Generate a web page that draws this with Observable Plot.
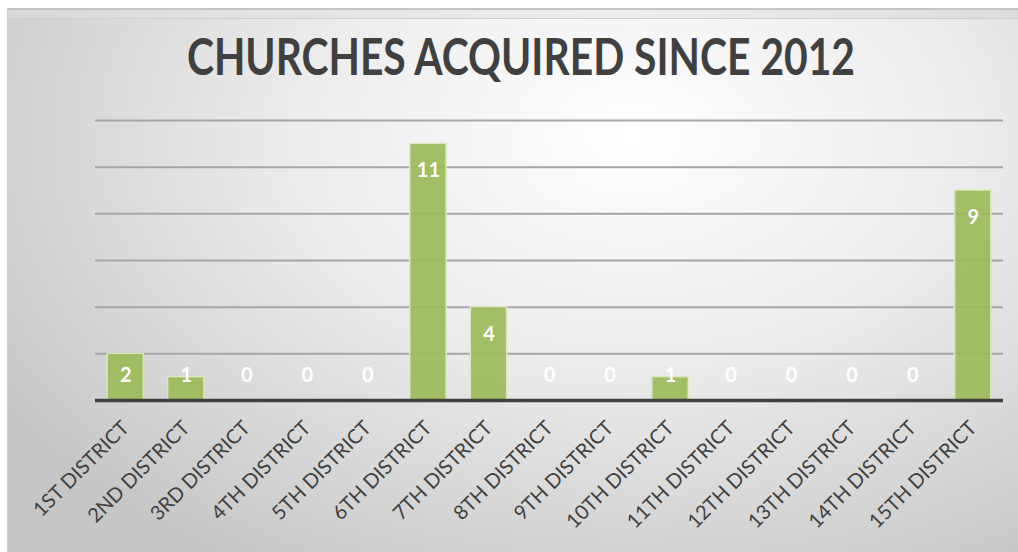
<!DOCTYPE html>
<html><head><meta charset="utf-8">
<script src="https://cdn.jsdelivr.net/npm/d3@7"></script>
<script src="https://cdn.jsdelivr.net/npm/@observablehq/plot@0.6"></script>
<style>
html,body{margin:0;padding:0;background:#fff;}
body{width:1018px;height:552px;overflow:hidden;position:relative;font-family:Lato,"Open Sans",sans-serif;}
#outer{position:absolute;left:7px;top:8px;width:1011px;height:544px;border-top:2px solid #c4c4c4;border-left:1px solid #cfcfcf;box-sizing:border-box;
 background:linear-gradient(to right,#d9d9d9,#efefef 60%,#dcdcdc);}
#frame{position:absolute;left:7px;top:18px;width:1011px;height:534px;border-top:1px solid #cfcfcf;border-left:1px solid #cfcfcf;box-sizing:border-box;
 background:radial-gradient(ellipse 75% 95% at 62% 22%,#ffffff 0%,#ececec 45%,#c6c6c6 100%);}
#title{position:absolute;left:0;top:26px;width:1042px;text-align:center;font-weight:bold;font-size:51px;line-height:60px;color:#404040;font-family:Lato,"Open Sans",sans-serif;white-space:nowrap;transform:scaleX(0.8);transform-origin:521px 0;}
#chart{position:absolute;left:0;top:100px;}
</style>
</head><body>
<div id="outer"></div>
<div id="frame"></div>
<div id="title">CHURCHES ACQUIRED SINCE 2012</div>
<div id="chart"></div>
<script>
const districts = ["1ST DISTRICT","2ND DISTRICT","3RD DISTRICT","4TH DISTRICT","5TH DISTRICT","6TH DISTRICT","7TH DISTRICT","8TH DISTRICT","9TH DISTRICT","10TH DISTRICT","11TH DISTRICT","12TH DISTRICT","13TH DISTRICT","14TH DISTRICT","15TH DISTRICT"];
const churches = [2,1,0,0,0,11,4,0,0,1,0,0,0,0,9];
const gridValues = [2,4,6,8,10,12];

const data = districts.map((d,i)=>({district:d,count:churches[i]}));

const chart = Plot.plot({
  width:1018, height:452,
  marginTop:20, marginBottom:152, marginLeft:95, marginRight:15,
  style:{background:"transparent", fontFamily:"Lato, 'Open Sans', sans-serif", fontSize:"16px", color:"#404040", overflow:"visible"},
  x:{domain:districts, paddingInner:0.4, paddingOuter:0.2, round:false, label:null},
  y:{domain:[0,12], axis:null},
  marks:[
    Plot.ruleY(gridValues,{stroke:"#a6a6a6", strokeWidth:2}),
    Plot.barY(data,{x:"district", y:"count", fill:"#9bbb59", fillOpacity:0.92, stroke:"#dbe7c3", strokeWidth:1.5}),
    Plot.ruleY([0],{stroke:"#404040", strokeWidth:3.5}),
    Plot.text(data,{x:"district", y:d=>Math.max(d.count-1.16,1.07), text:"count", fill:"white", fontWeight:"bold", fontSize:20}),
    Plot.axisX({tickSize:0, tickRotate:-45, tickPadding:24, fontSize:20, fill:"#404040", label:null})
  ]
});
document.getElementById("chart").appendChild(chart);
</script>
</body></html>
